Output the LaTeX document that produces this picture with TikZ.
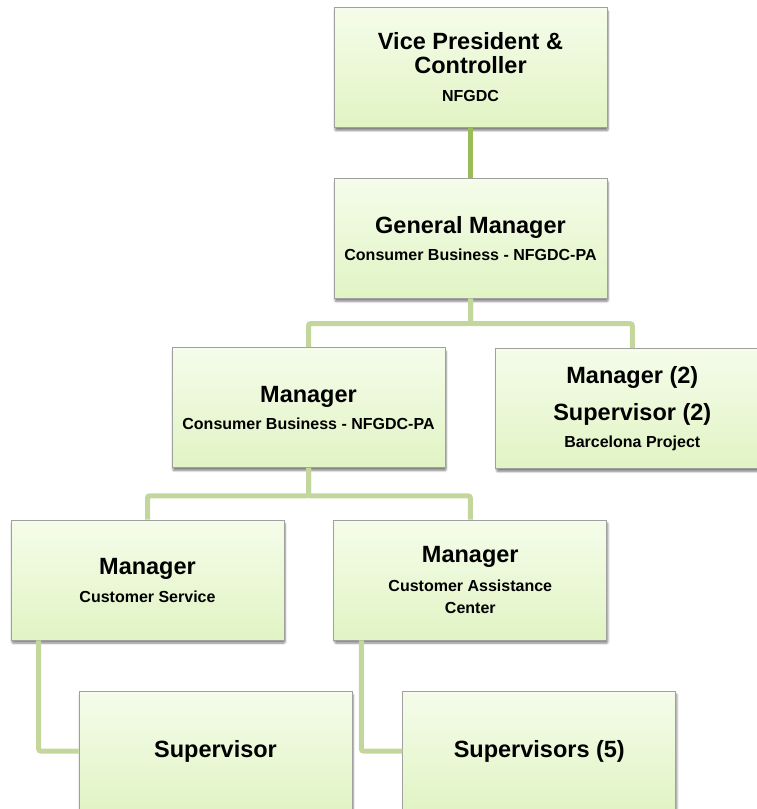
\documentclass[tikz,border=0pt]{standalone}
\usepackage{fontspec}
\setmainfont{Liberation Sans}
\usepackage{tikz}
\usetikzlibrary{positioning,shadows,shadows.blur}

\definecolor{boxtop}{HTML}{F5FCEA}
\definecolor{boxbot}{HTML}{E1F4C4}
\definecolor{boxline}{HTML}{A0A0A0}
\definecolor{linkgreen}{HTML}{C3D69B}
\definecolor{topgreen}{HTML}{9BBB59}

\newcommand{\orgheadfont}{\fontsize{23.5}{20}\selectfont}
\newcommand{\orgunitfont}{\fontsize{16}{20}\selectfont}

\begin{document}
\begin{tikzpicture}[x=1pt,y=-1pt,
    orgbox/.style={draw=boxline,line width=0.8pt,rectangle,
      top color=boxtop,bottom color=boxbot,
      minimum width=273pt,minimum height=120pt,inner sep=0pt,
      align=center,font=\bfseries\fontsize{16}{20}\selectfont,
      blur shadow={shadow xshift=1pt,shadow yshift=-3pt,
        shadow blur steps=6,shadow blur extra rounding=1pt,shadow opacity=50}},
    link/.style={draw=linkgreen,line width=5pt,rounded corners=2pt},
    toplink/.style={link,draw=topgreen}]
  \clip (0,0) rectangle (757,809);

  % top of the chart
  \node[orgbox] (vp) at (470.5,67.5)
    {\orgheadfont Vice President \&\\[4pt]\orgheadfont Controller\\[8pt]\orgunitfont NFGDC};
  \node[orgbox,below=50pt of vp] (gm)
    {\orgheadfont General Manager\\[7pt]\orgunitfont Consumer Business - NFGDC-PA};

  % second row
  \node[orgbox] (mgr) at (308.5,407.5)
    {\orgheadfont Manager\\[7pt]\orgunitfont Consumer Business - NFGDC-PA};
  \node[orgbox,right=50pt of mgr,yshift=-1pt] (bcn)
    {\orgheadfont Manager (2)\\[14pt]\orgheadfont Supervisor (2)\\[7pt]\orgunitfont Barcelona Project};

  % third row
  \node[orgbox] (mcs) at (147.5,580)
    {\orgheadfont Manager\\[8pt]\orgunitfont Customer Service};
  \node[orgbox,right=49pt of mcs] (mcac)
    {\orgheadfont Manager\\[9pt]\orgunitfont Customer Assistance\\[2pt]\orgunitfont Center};

  % supervisors
  \node[orgbox] (sup) at (215.5,751) {\orgheadfont Supervisor};
  \node[orgbox,right=50pt of sup] (sups) {\orgheadfont Supervisors (5)};

  \draw[toplink] (vp) -- (gm);
  \draw[link] (gm.south) -- ++(0,25) -| (mgr.north);
  \draw[link] (gm.south) -- ++(0,25) -| (bcn.north);
  \draw[link] (mgr.south) -- ++(0,28) -| (mcs.north);
  \draw[link] (mgr.south) -- ++(0,28) -| (mcac.north);
  \draw[link] ([xshift=28pt]mcs.south west) |- (sup.west);
  \draw[link] ([xshift=28pt]mcac.south west) |- (sups.west);
\end{tikzpicture}
\end{document}
